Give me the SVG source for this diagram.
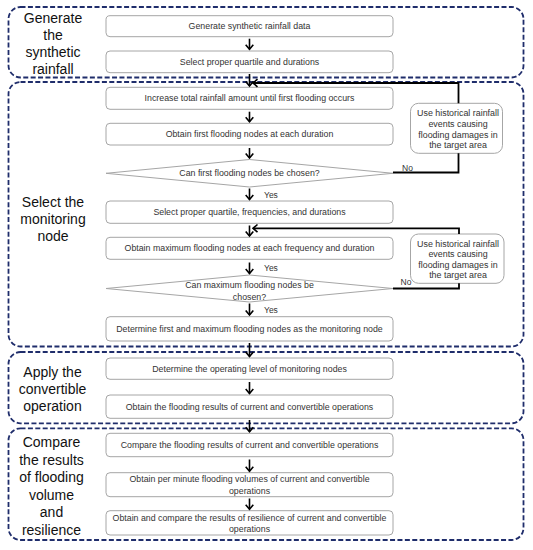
<svg xmlns="http://www.w3.org/2000/svg" width="533" height="550" viewBox="0 0 533 550">
<style>
.sec{fill:none;stroke:#1f2d6b;stroke-width:1.8;stroke-dasharray:5 2.4}
.box{fill:#fff;stroke:#a6a6a6;stroke-width:1}
.side{fill:#fff;stroke:#a6a6a6;stroke-width:1}
.t{font-family:"Liberation Sans",Arial,sans-serif;font-size:8.8px;fill:#333;text-anchor:middle}
.st{font-family:"Liberation Sans",Arial,sans-serif;font-size:8.9px;fill:#333;text-anchor:middle}
.lbl{font-family:"Liberation Sans",Arial,sans-serif;font-size:14px;fill:#111;text-anchor:middle}
.yn{font-family:"Liberation Sans",Arial,sans-serif;font-size:8.5px;fill:#333}
.arr{fill:none;stroke:#000;stroke-width:1.6;marker-end:url(#ah)}
.loop{fill:none;stroke:#000;stroke-width:1.8}
</style>
<defs>
<marker id="ah" viewBox="-7 -6 10 12" markerWidth="10" markerHeight="12" markerUnits="userSpaceOnUse" orient="auto">
<path d="M-4.5,-3.8 L0,0 L-4.5,3.8" fill="none" stroke="#000" stroke-width="1.6"/>
</marker>
</defs>
<rect width="533" height="550" fill="#fff"/>

<g id="sections">
<rect class="sec" x="8.5" y="7" width="515" height="70.5" rx="12"/>
<rect class="sec" x="8.5" y="82" width="515" height="264.5" rx="12"/>
<rect class="sec" x="8.5" y="352" width="515" height="71.3" rx="12"/>
<rect class="sec" x="8.5" y="428.3" width="515" height="111.7" rx="12"/>
</g>

<g id="section-labels">
<text class="lbl" x="53" y="23.3">Generate</text>
<text class="lbl" x="53" y="40.2">the</text>
<text class="lbl" x="53" y="57.1">synthetic</text>
<text class="lbl" x="53" y="74">rainfall</text>
<text class="lbl" x="53" y="207">Select the</text>
<text class="lbl" x="53" y="224">monitoring</text>
<text class="lbl" x="53" y="241">node</text>
<text class="lbl" x="52.5" y="377">Apply the</text>
<text class="lbl" x="52.5" y="394">convertible</text>
<text class="lbl" x="52.5" y="411">operation</text>
<text class="lbl" x="51.5" y="447">Compare</text>
<text class="lbl" x="51.5" y="464.5">the results</text>
<text class="lbl" x="51.5" y="482">of flooding</text>
<text class="lbl" x="51.5" y="499.5">volume</text>
<text class="lbl" x="51.5" y="517">and</text>
<text class="lbl" x="51.5" y="534.5">resilience</text>
</g>

<g id="n1"><rect class="box" x="106" y="15.7" width="287" height="21" rx="4"/><text class="t" x="249.5" y="29.3">Generate synthetic rainfall data</text></g>
<g id="n2"><rect class="box" x="106" y="51" width="287" height="21.7" rx="4"/><text class="t" x="249.5" y="65">Select proper quartile and durations</text></g>
<g id="n3"><rect class="box" x="106" y="87.3" width="287" height="22" rx="4"/><text class="t" x="249.5" y="101.4">Increase total rainfall amount until first flooding occurs</text></g>
<g id="n4"><rect class="box" x="106" y="123.3" width="287" height="21.7" rx="4"/><text class="t" x="249.5" y="137.3">Obtain first flooding nodes at each duration</text></g>
<g id="d1"><polygon class="box" points="106,173.3 249.5,159.5 393,173.3 249.5,187"/><text class="t" x="249.5" y="176.4">Can first flooding nodes be chosen?</text></g>
<g id="n5"><rect class="box" x="106" y="201" width="287" height="22.3" rx="4"/><text class="t" x="249.5" y="215.2">Select proper quartile, frequencies, and durations</text></g>
<g id="n6"><rect class="box" x="106" y="237.3" width="287" height="22" rx="4"/><text class="t" x="249.5" y="251.4">Obtain maximum flooding nodes at each frequency and duration</text></g>
<g id="d2"><polygon class="box" points="106,288.5 249.5,275 393,288.5 249.5,302"/><text class="t" x="249.5" y="288">Can maximum flooding nodes be</text><text class="t" x="249.5" y="300">chosen?</text></g>
<g id="n7"><rect class="box" x="106" y="316.7" width="287" height="24.3" rx="4"/><text class="t" x="249.5" y="332">Determine first and maximum flooding nodes as the monitoring node</text></g>
<g id="n8"><rect class="box" x="106" y="358" width="287" height="21.3" rx="4"/><text class="t" x="249.5" y="371.8">Determine the operating level of monitoring nodes</text></g>
<g id="n9"><rect class="box" x="106" y="395" width="287" height="23.3" rx="4"/><text class="t" x="249.5" y="409.8">Obtain the flooding results of current and convertible operations</text></g>
<g id="n10"><rect class="box" x="106" y="433.3" width="287" height="23.4" rx="4"/><text class="t" x="249.5" y="448.1">Compare the flooding results of current and convertible operations</text></g>
<g id="n11"><rect class="box" x="106" y="472.7" width="287" height="24" rx="4"/><text class="t" x="249.5" y="482.4">Obtain per minute flooding volumes of current and convertible</text><text class="t" x="249.5" y="493.8">operations</text></g>
<g id="n12"><rect class="box" x="106" y="510.7" width="287" height="24.3" rx="4"/><text class="t" x="249.5" y="521">Obtain and compare the results of resilience of current and convertible</text><text class="t" x="249.5" y="532.4">operations</text></g>

<g id="s1"><rect class="side" x="410.5" y="103.3" width="92" height="50" rx="8"/>
<text class="st" x="458" y="115.9">Use historical rainfall</text>
<text class="st" x="458" y="126.7">events causing</text>
<text class="st" x="458" y="137.5">flooding damages in</text>
<text class="st" x="458" y="148.3">the target area</text></g>
<g id="s2"><rect class="side" x="410.5" y="234" width="93.5" height="49.3" rx="8"/>
<text class="st" x="458" y="246.5">Use historical rainfall</text>
<text class="st" x="458" y="257.1">events causing</text>
<text class="st" x="458" y="267.7">flooding damages in</text>
<text class="st" x="458" y="278.3">the target area</text></g>

<g id="connectors">
<path class="arr" d="M249.5,38.7 V49.3"/>
<path class="arr" d="M249.5,74 V86"/>
<path class="arr" d="M249.5,111.7 V121.7"/>
<path class="arr" d="M249.5,148 V158"/>
<path class="arr" d="M249.5,188.5 V199.5"/>
<path class="arr" d="M249.5,225.5 V236"/>
<path class="arr" d="M249.5,262.5 V273.5"/>
<path class="arr" d="M249.5,303.5 V315"/>
<path class="arr" d="M249.5,343 V356.5"/>
<path class="arr" d="M249.5,382 V393.5"/>
<path class="arr" d="M249.5,420 V431.8"/>
<path class="arr" d="M249.5,459.5 V471.2"/>
<path class="arr" d="M249.5,498.5 V509.2"/>
<path class="loop" d="M458.5,103.3 V83 H253" marker-end="url(#ah)"/>
<path class="loop" d="M393,172.5 H458.5 V153.3"/>
<path class="loop" d="M459,234 V228.3 H253" marker-end="url(#ah)"/>
<path class="loop" d="M393,288.5 H459 V283.3"/>
<text class="yn" x="402" y="170.7">No</text>
<text class="yn" x="400.5" y="284.7">No</text>
<text class="yn" x="264" y="198">Yes</text>
<text class="yn" x="264" y="271.3">Yes</text>
<text class="yn" x="264" y="313">Yes</text>
</g>
</svg>
